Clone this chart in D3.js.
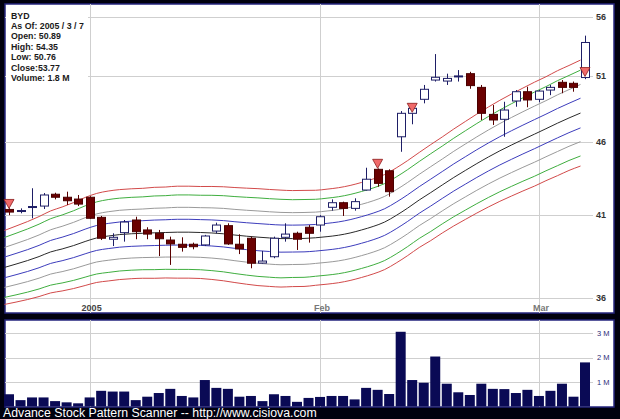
<!DOCTYPE html>
<html>
<head>
<meta charset="utf-8">
<script src="https://cdn.jsdelivr.net/npm/d3@7"></script>
<style>
html, body { margin: 0; padding: 0; background: #000; }
svg { display: block; }
</style>
</head>
<body>
<svg id="chart" width="620" height="419"></svg>
<script>
// Trading days shown on the chart
const dates = [
  "2004-12-22","2004-12-23","2004-12-27","2004-12-28","2004-12-29","2004-12-30","2004-12-31",
  "2005-01-03","2005-01-04","2005-01-05","2005-01-06","2005-01-07","2005-01-10","2005-01-11",
  "2005-01-12","2005-01-13","2005-01-14","2005-01-18","2005-01-19","2005-01-20","2005-01-21",
  "2005-01-24","2005-01-25","2005-01-26","2005-01-27","2005-01-28","2005-01-31",
  "2005-02-01","2005-02-02","2005-02-03","2005-02-04","2005-02-07","2005-02-08","2005-02-09",
  "2005-02-10","2005-02-11","2005-02-14","2005-02-15","2005-02-16","2005-02-17","2005-02-18",
  "2005-02-22","2005-02-23","2005-02-24","2005-02-25","2005-02-28",
  "2005-03-01","2005-03-02","2005-03-03","2005-03-04","2005-03-07"
];
const openPrices = [41.37,41.28,41.51,41.59,42.37,42.17,42.05,42.17,40.86,39.48,39.89,40.69,40.06,39.85,39.43,39.17,39.17,39.13,39.99,40.33,39.17,39.54,38.03,38.41,39.60,39.85,40.23,40.37,41.51,41.81,41.44,42.65,44.06,43.96,46.37,48.11,49.18,50.69,50.61,50.98,51.20,50.11,48.03,47.66,49.05,49.77,49.18,49.90,50.51,50.43,50.89];
const highPrices = [41.45,41.44,42.77,42.45,42.47,42.54,42.32,42.24,40.95,39.85,40.69,40.90,40.23,40.06,39.64,39.60,39.27,39.75,40.52,40.48,39.79,39.64,38.76,39.64,40.48,39.95,40.37,41.00,42.03,41.88,42.10,44.17,44.12,44.06,48.28,48.55,50.30,52.80,51.20,51.49,51.35,50.30,48.74,48.99,49.90,50.16,49.90,50.30,50.69,50.57,54.35];
const lowPrices = [41.00,41.12,40.80,41.40,42.03,41.66,41.59,40.76,39.43,39.06,39.33,39.48,39.48,38.45,37.92,38.72,38.86,39.06,39.85,39.13,38.57,37.72,38.00,38.32,39.33,38.82,39.27,39.95,41.29,40.95,41.29,42.62,42.87,42.21,45.29,47.29,48.87,50.57,50.30,50.57,50.00,47.61,47.24,46.37,48.61,48.57,48.95,49.50,49.65,49.77,50.76];
const closePrices = [41.20,41.30,41.56,42.32,42.17,41.94,41.72,40.80,39.54,39.60,40.56,39.95,39.80,39.51,39.19,38.98,39.02,39.68,40.37,39.19,38.88,38.02,38.15,39.54,39.80,39.48,39.85,40.90,41.81,41.44,41.88,43.38,43.10,42.54,48.11,48.49,49.96,50.91,50.82,51.02,50.25,48.11,47.61,48.36,49.77,49.13,49.82,50.11,50.11,50.11,53.77];
// Daily volume, millions of shares
const volumes = [0.50,0.26,0.37,0.37,0.22,0.17,0.13,0.37,0.64,0.61,0.61,0.26,0.40,0.55,0.72,0.43,0.37,1.08,0.76,0.72,0.40,0.43,0.22,0.50,0.43,0.19,0.35,0.39,0.43,0.43,0.29,0.76,0.68,0.51,3.05,1.08,0.97,2.04,0.93,0.58,0.47,0.93,0.72,0.71,0.55,0.68,0.43,0.64,0.93,0.40,1.80];
// Envelope: centre line and half-width (percent) of the outermost band
const bandCenter = [37.77,37.97,38.18,38.42,38.70,38.88,39.09,39.34,39.56,39.68,39.77,39.82,39.85,39.88,39.90,39.92,39.92,39.90,39.87,39.82,39.74,39.67,39.61,39.56,39.52,39.52,39.53,39.57,39.64,39.73,39.87,40.06,40.28,40.56,40.98,41.46,41.99,42.48,42.99,43.50,43.98,44.46,44.92,45.36,45.77,46.17,46.56,46.96,47.37,47.76,48.13];
const bandSpread = [5.81,5.97,6.12,6.28,6.44,6.59,6.75,6.91,6.99,7.06,7.06,7.06,7.06,7.14,7.14,7.22,7.22,7.22,7.30,7.38,7.46,7.54,7.61,7.61,7.61,7.54,7.54,7.46,7.46,7.46,7.46,7.46,7.46,7.46,7.46,7.46,7.46,7.54,7.54,7.61,7.69,7.77,7.85,7.93,8.01,8.08,8.16,8.16,8.24,8.24,8.32];
const bandLevels = [1, 0.81, 0.54, 0.28, 0, -0.28, -0.54, -0.81, -1];
const bandColors = ["#d24a4a","#3fae3f","#9a9a9a","#3c3cbc","#2a2a2a","#3c3cbc","#9a9a9a","#3fae3f","#d24a4a"];
// Pattern signal days
const signalDates = ["2004-12-22","2005-02-08","2005-02-11","2005-03-07"];
// Axis ticks
const priceTicks = [36, 41, 46, 51, 56];
const volumeTicks = [1, 2, 3];
const monthTicks = ["2005-01-03","2005-02-01","2005-03-01"];
const monthLabels = ["2005","Feb","Mar"];
const infoLines = ["BYD","As Of: 2005 / 3 / 7","Open: 50.89","High: 54.35","Low: 50.76","Close:53.77","Volume: 1.8 M"];
const footerText = "Advance Stock Pattern Scanner -- http://www.cisiova.com";

const rows = dates.map((d, i) => ({
  date: d, open: openPrices[i], high: highPrices[i], low: lowPrices[i],
  close: closePrices[i], volume: volumes[i], center: bandCenter[i], spread: bandSpread[i]
}));

const svg = d3.select("#chart");
const W = 620, H = 419;
const panel = { left: 5, right: 614, top: 4, bottom: 313 };
const vol = { top: 320, bottom: 407 };
const gridRight = 593;

svg.append("rect").attr("width", W).attr("height", H).attr("fill", "#00000e");

// Panels
svg.append("rect").attr("x", panel.left).attr("y", panel.top)
  .attr("width", panel.right - panel.left).attr("height", panel.bottom - panel.top)
  .attr("fill", "#fff").attr("stroke", "#24247e").attr("stroke-width", 1.5);
svg.append("rect").attr("x", panel.left).attr("y", vol.top)
  .attr("width", panel.right - panel.left).attr("height", vol.bottom - vol.top)
  .attr("fill", "#fff").attr("stroke", "#24247e").attr("stroke-width", 1.5);

// Scales
const x = d3.scalePoint().domain(dates).range([9, 585]);
const bodyW = 9;
const y = d3.scaleLog().domain([36, 56]).range([298, 16.6]);
const yv = d3.scaleLinear().domain([0, 3]).range([406.5, 333]);

// Gridlines
const grid = svg.append("g").attr("stroke", "#cfcfcf").attr("stroke-width", 1).attr("shape-rendering", "crispEdges");
grid.selectAll("line.h").data(priceTicks).join("line")
  .attr("x1", panel.left).attr("x2", gridRight)
  .attr("y1", d => Math.round(y(d)) + 0.5).attr("y2", d => Math.round(y(d)) + 0.5);
grid.selectAll("line.v").data(monthTicks).join("line")
  .attr("x1", d => Math.round(x(d)) + 0.5).attr("x2", d => Math.round(x(d)) + 0.5)
  .attr("y1", panel.top).attr("y2", panel.bottom);
grid.selectAll("line.vh").data(volumeTicks).join("line")
  .attr("x1", panel.left).attr("x2", gridRight)
  .attr("y1", d => Math.round(yv(d)) + 0.5).attr("y2", d => Math.round(yv(d)) + 0.5);
grid.selectAll("line.vv").data(monthTicks).join("line")
  .attr("x1", d => Math.round(x(d)) + 0.5).attr("x2", d => Math.round(x(d)) + 0.5)
  .attr("y1", vol.top).attr("y2", vol.bottom);

// Envelope bands
const bandG = svg.append("g").attr("fill", "none").attr("stroke-width", 1);
bandLevels.forEach((lv, k) => {
  const line = d3.line()
    .x(d => x(d.date) - bodyW / 2)
    .y(d => y(d.center * Math.exp(lv * d.spread / 100)))
    .curve(d3.curveMonotoneX);
  bandG.append("path").datum(rows).attr("d", line).attr("stroke", bandColors[k]);
});

// Candles
const up = d => d.close >= d.open;
const cg = svg.append("g");
cg.selectAll("line.wick").data(rows).join("line")
  .attr("x1", d => Math.round(x(d.date)) + 0.5).attr("x2", d => Math.round(x(d.date)) + 0.5)
  .attr("y1", d => y(d.high)).attr("y2", d => y(d.low))
  .attr("stroke", d => up(d) ? "#1e1e66" : "#5a0000").attr("stroke-width", 1);
cg.selectAll("rect.body").data(rows).join("rect")
  .attr("x", d => Math.round(x(d.date)) - 4 + 0.5)
  .attr("y", d => y(Math.max(d.open, d.close)))
  .attr("width", bodyW - 1)
  .attr("height", d => Math.max(1, y(Math.min(d.open, d.close)) - y(Math.max(d.open, d.close))))
  .attr("fill", d => up(d) ? "#fff" : "#6a0000")
  .attr("stroke", d => up(d) ? "#1e1e66" : "#4a0000").attr("stroke-width", 1);

// Signal markers: downward triangles just above the open
const sig = rows.filter(d => signalDates.includes(d.date));
svg.append("g").selectAll("path").data(sig).join("path")
  .attr("d", d => {
    const cx = x(d.date), ty = y(d.open) - 1;
    return `M${cx - 5},${ty - 9}L${cx + 5},${ty - 9}L${cx},${ty}Z`;
  })
  .attr("fill", "#f06a6a").attr("stroke", "#8a1a1a").attr("stroke-width", 0.8);

// Volume bars
svg.append("g").selectAll("rect").data(rows).join("rect")
  .attr("x", d => x(d.date) - 5)
  .attr("width", 10)
  .attr("y", d => yv(d.volume))
  .attr("height", d => yv(0) - yv(d.volume))
  .attr("fill", "#0a0a55");

// Info box
svg.append("rect").attr("x", panel.left + 1).attr("y", panel.top + 1)
  .attr("width", 82).attr("height", 80).attr("fill", "#fff");
svg.append("g").selectAll("text").data(infoLines).join("text")
  .attr("x", 11).attr("y", (d, i) => 18.5 + i * 10.4)
  .attr("font-family", "Liberation Sans, Arial, sans-serif")
  .attr("font-size", 8.8).attr("font-weight", "bold").attr("fill", "#1a1a1a")
  .text(d => d);

// Price axis labels
svg.append("g").selectAll("text").data(priceTicks).join("text")
  .attr("x", 596).attr("y", d => y(d)).attr("dy", "0.35em")
  .attr("font-family", "Liberation Sans, Arial, sans-serif")
  .attr("font-size", 9).attr("font-weight", "bold").attr("fill", "#333")
  .text(d => d);

// Month labels
svg.append("g").selectAll("text").data(monthTicks).join("text")
  .attr("x", d => x(d) + 2).attr("y", 311)
  .attr("text-anchor", "middle")
  .attr("font-family", "Liberation Sans, Arial, sans-serif")
  .attr("font-size", 9).attr("font-weight", "bold")
  .attr("fill", (d, i) => i === 0 ? "#444" : "#777")
  .text((d, i) => monthLabels[i]);

// Volume axis labels
svg.append("g").selectAll("text").data(volumeTicks).join("text")
  .attr("x", 597).attr("y", d => yv(d)).attr("dy", "0.35em")
  .attr("font-family", "Liberation Sans, Arial, sans-serif")
  .attr("font-size", 7.5).attr("fill", "#2c2c78")
  .text(d => d + " M");

// Footer
svg.append("text").attr("x", 3).attr("y", 417)
  .attr("font-family", "Liberation Sans, Arial, sans-serif")
  .attr("font-size", 12.3).attr("fill", "#fff")
  .text(footerText);
</script>
</body>
</html>
